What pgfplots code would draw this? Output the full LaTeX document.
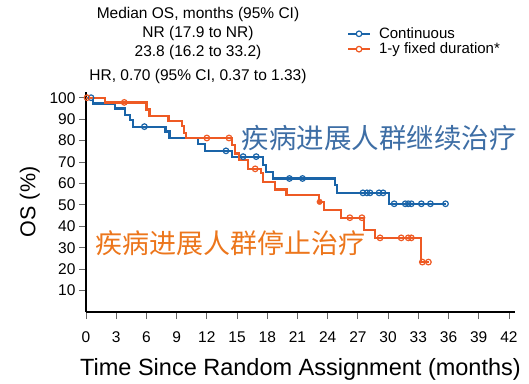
\documentclass[border=0pt]{standalone}
\usepackage{fontspec}
\setmainfont{Liberation Sans}
\newfontfamily\cjk{Noto Sans CJK SC}
\usepackage{pgfplots}
\pgfplotsset{compat=1.18}
\definecolor{cblue}{RGB}{26,100,168}
\definecolor{corange}{RGB}{238,90,36}
\definecolor{cbluetext}{RGB}{62,110,165}
\definecolor{corangetext}{RGB}{236,118,28}
\begin{document}
\begin{tikzpicture}
\useasboundingbox (0pt,0pt) rectangle (529pt,383pt);
\begin{axis}[
  at={(86pt,71pt)}, anchor=south west,
  scale only axis, width=429pt, height=220.3pt,
  xmin=0, xmax=42.6, ymin=0, ymax=102.8,
  axis x line*=bottom, axis y line*=left,
  axis line style={line width=1.6pt, black},
  xtick={0,3,...,42}, ytick={10,20,...,100},
  tick align=outside, major tick length=7pt,
  tick style={line width=0.9pt, black!60},
  /pgf/number format/assume math mode=true,
  tick label style={font=\fontsize{15.5}{17}\selectfont},
  xticklabel style={yshift=-9pt},
  xlabel={Time Since Random Assignment (months)},
  ylabel={OS (\%)},
  xlabel style={font=\fontsize{23.5}{26}\selectfont, yshift=-9pt},
  ylabel style={font=\fontsize{21.5}{24}\selectfont, yshift=3pt},
  legend style={at={(0.601,1.31)}, anchor=north west, draw=none, fill=none,
    font=\fontsize{15}{18}\selectfont, row sep=-1pt,
    /tikz/every odd column/.append style={column sep=6pt}},
  legend cell align=left,
  legend image code/.code={\draw[#1, line width=2pt] (0pt,0pt) -- (22pt,0pt);
     \draw[#1, line width=1.2pt, fill=white] (11pt,0pt) circle (2.8pt);},
]
\addplot[const plot, color=cblue, line width=2.2pt] coordinates {
(0,100) (0.7,97.3) (2.9,95) (3.9,92) (4.4,89.7) (4.7,86.5) (7.9,84.2) (8.3,81.1)
(11.1,78.4) (11.8,75.2) (14.5,72.5) (17.6,68.6) (17.9,65.4) (18.6,62.3)
(24.7,59.2) (24.9,55.6) (30.1,50.5) (35.7,50.5)};
\addlegendentry{Continuous}
\addplot[const plot, color=corange, line width=2.2pt] coordinates {
(0,100) (1.9,97.8) (6.0,94.5) (6.3,91.4) (8.2,89) (9.5,86.7) (9.7,83.6) (9.9,81.2)
(14.5,77.8) (14.8,74) (15.2,70.8) (16.1,66.8) (17.4,64.7) (17.6,60.5) (18.8,57.2)
(19.9,54.5) (23.1,51.4) (23.6,47.5) (25.3,44) (27.6,38.2) (28.7,34.6) (33.3,23.3) (34.1,23.3)};
\addlegendentry{1-y fixed duration*}
\addplot[only marks, mark=o, mark size=2.8pt, color=cblue, mark options={fill=white, line width=1.2pt}, forget plot] coordinates {
(0.5,100) (5.8,86.5) (13.9,75.2) (15.6,72.5) (16.9,72.5) (20.2,62.3) (21.5,62.3)
(27.5,55.6) (27.9,55.6) (28.2,55.6) (29.1,55.6) (29.5,55.6)
(30.6,50.5) (31.7,50.5) (32.0,50.5) (32.3,50.5) (33.3,50.5) (34.2,50.5) (35.7,50.5)};
\addplot[only marks, mark=o, mark size=2.8pt, color=corange, mark options={fill=white, line width=1.2pt}, forget plot] coordinates {
(0.1,100) (3.8,97.8) (12.0,81.2) (14.2,81.2) (16.8,66.8) (26.2,44) (27.4,44)
(29.2,34.6) (31.3,34.6) (32.0,34.6) (32.3,34.6) (33.4,23.3) (34.0,23.3)};
\addplot[only marks, mark=*, mark size=2.8pt, color=corange, forget plot] coordinates {(23.2,51.4)};
\end{axis}
\begin{scope}[every node/.style={font=\fontsize{15.5}{18}\selectfont, anchor=base, inner sep=0pt}]
\node at (198pt,364.7pt) {Median OS, months (95\% CI)};
\node at (198pt,345.7pt) {NR (17.9 to NR)};
\node at (198pt,326.3pt) {23.8 (16.2 to 33.2)};
\node at (198pt,302pt) {HR, 0.70 (95\% CI, 0.37 to 1.33)};
\end{scope}
\node[font=\cjk\fontsize{27.5}{30}\selectfont, text=cbluetext] at (379pt,245pt) {疾病进展人群继续治疗};
\node[font=\cjk\fontsize{27}{30}\selectfont, text=corangetext] at (230pt,140pt) {疾病进展人群停止治疗};
\end{tikzpicture}
\end{document}
